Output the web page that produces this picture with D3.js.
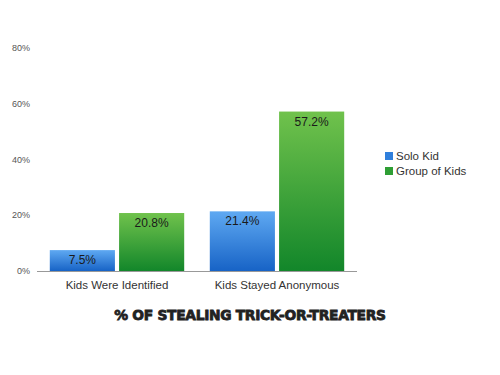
<!DOCTYPE html>
<html>
<head>
<meta charset="utf-8">
<script src="https://cdn.jsdelivr.net/npm/d3@7"></script>
<style>
  body { margin: 0; background: #fff; }
  svg { display: block; font-family: 'Liberation Sans', Arial, sans-serif; }
</style>
</head>
<body>
<svg id="chart" width="500" height="375"></svg>
<script>
const categories = ['Kids Were Identified', 'Kids Stayed Anonymous'];
const seriesNames = ['Solo Kid', 'Group of Kids'];
const soloKid = [7.5, 21.4];
const groupOfKids = [20.8, 57.2];
const yTicks = [0, 20, 40, 60, 80];
const title = '% OF STEALING TRICK-OR-TREATERS';

const svg = d3.select('#chart');
const defs = svg.append('defs');

const gradColors = [['#5fa9f2', '#1763c6'], ['#70c24c', '#12862a']];
gradColors.forEach(([top, bottom], i) => {
  const g = defs.append('linearGradient')
    .attr('id', 'grad' + i)
    .attr('x1', 0).attr('y1', 0).attr('x2', 0).attr('y2', 1);
  g.append('stop').attr('offset', '0%').attr('stop-color', top);
  g.append('stop').attr('offset', '100%').attr('stop-color', bottom);
});
const solidColors = ['#2f7fdc', '#2e9e34'];

const x0 = d3.scaleBand().domain(categories).range([37, 357]).paddingInner(0.16).paddingOuter(0.08);
const x1 = d3.scaleBand().domain(seriesNames).range([0, x0.bandwidth()]).paddingInner(0.06);
const y = d3.scaleLinear().domain([0, 80]).range([271, 48]);

// y tick labels
svg.append('g').selectAll('text')
  .data(yTicks)
  .join('text')
  .attr('x', 30)
  .attr('y', d => y(d))
  .attr('dy', '0.35em')
  .attr('text-anchor', 'end')
  .attr('font-size', 9)
  .attr('fill', '#555')
  .text(d => d + '%');

const rows = categories.map((c, i) => ({ cat: c, values: [soloKid[i], groupOfKids[i]] }));

const groups = svg.append('g').selectAll('g')
  .data(rows)
  .join('g')
  .attr('transform', d => `translate(${x0(d.cat)},0)`);

groups.selectAll('rect')
  .data(d => d.values.map((v, i) => ({ v, s: seriesNames[i], i })))
  .join('rect')
  .attr('x', d => x1(d.s))
  .attr('y', d => y(d.v))
  .attr('width', x1.bandwidth())
  .attr('height', d => y(0) - y(d.v))
  .attr('fill', d => `url(#grad${d.i})`);

groups.selectAll('text.val')
  .data(d => d.values.map((v, i) => ({ v, s: seriesNames[i] })))
  .join('text')
  .attr('class', 'val')
  .attr('x', d => x1(d.s) + x1.bandwidth() / 2)
  .attr('y', d => y(d.v) + 14)
  .attr('text-anchor', 'middle')
  .attr('font-size', 12)
  .attr('fill', '#1a1a1a')
  .text(d => d.v.toFixed(1) + '%');

// baseline
svg.append('line')
  .attr('x1', 37).attr('x2', 357)
  .attr('y1', y(0) + 0.5).attr('y2', y(0) + 0.5)
  .attr('stroke', '#999').attr('stroke-width', 1);

// category labels
svg.append('g').selectAll('text')
  .data(categories)
  .join('text')
  .attr('x', d => x0(d) + x0.bandwidth() / 2)
  .attr('y', 289)
  .attr('text-anchor', 'middle')
  .attr('font-size', 11.5)
  .attr('fill', '#333')
  .text(d => d);

// legend
const legend = svg.append('g').selectAll('g')
  .data(seriesNames)
  .join('g')
  .attr('transform', (d, i) => `translate(385,${152 + i * 15})`);
legend.append('rect')
  .attr('width', 8).attr('height', 8)
  .attr('fill', (d, i) => solidColors[i]);
legend.append('text')
  .attr('x', 11).attr('y', 4).attr('dy', '0.35em')
  .attr('font-size', 11.5)
  .attr('fill', '#333')
  .text(d => d);

// title
svg.append('text')
  .attr('x', 250).attr('y', 320)
  .attr('text-anchor', 'middle')
  .attr('font-family', "'DejaVu Sans', sans-serif")
  .attr('font-weight', 'bold')
  .attr('font-size', 13.8)
  .attr('letter-spacing', -0.3)
  .attr('fill', '#222')
  .attr('stroke', '#222')
  .attr('stroke-width', 0.8)
  .text(title);
</script>
</body>
</html>
